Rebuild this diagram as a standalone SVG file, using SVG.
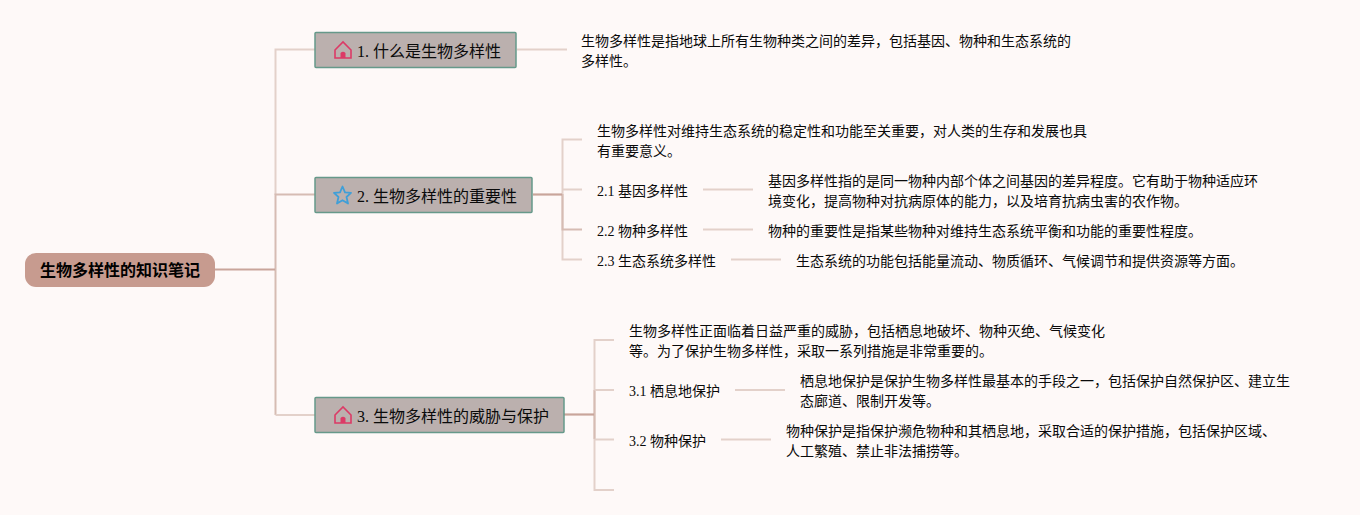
<svg xmlns="http://www.w3.org/2000/svg" width="1360" height="515" viewBox="0 0 1360 515">
<style>
text{font-family:"Liberation Serif","Noto Sans CJK SC",serif;fill:#0a0a0a}
.t{font-size:16px}
.s{font-size:14px}
.r{font-size:16px;font-weight:700;font-family:"Noto Sans CJK SC",sans-serif;fill:#000}
.box{fill:#bbb0ae;stroke:#66998a;stroke-width:1.5}
.l{fill:none;stroke:#e3d1ca;stroke-width:2}
.d{fill:none;stroke:#c9a59b;stroke-width:2.2}
.m{fill:none;stroke:#d6bcb3;stroke-width:2}
.home{fill:none;stroke:#dc3a66;stroke-width:1.6}
.star{fill:none;stroke:#3f9fd8;stroke-width:1.8;stroke-linejoin:round}
</style>
<defs>
<g id="homeIcon"><path class="home" d="M-8 0 L0 -8 L8 0 V8 H-8 Z"/><path d="M-2.500 8 V3 Q0 0.500 2.500 3 V8 Z" fill="#dc3a66"/></g>
</defs>
<rect width="1360" height="515" fill="#fef9f8"/>
<g id="connectors">
<path class="l" d="M315 49.500 H275.500 V195"/>
<path class="m" d="M315 194.500 H275.500 V269"/>
<path class="m" d="M275.500 269 V415"/>
<path class="l" d="M275.500 415 H315"/>
<path class="d" d="M215 269.500 H275"/>
<path class="l" d="M517 49.500 H567"/>
<path class="l" d="M582 139.500 H562.500 V194"/>
<path class="l" d="M562.500 194 V259.500 H582"/>
<path class="l" d="M562.500 189.500 H582"/>
<path class="m" d="M562.500 194 V229.500 H582"/>
<path class="d" d="M533 194.500 H562"/>
<path class="l" d="M703 189.500 H753"/>
<path class="l" d="M703 229.500 H753"/>
<path class="l" d="M731 259.500 H781"/>
<path class="l" d="M614 340 H594.500 V490 H614"/>
<path class="m" d="M594.500 390 V439"/>
<path class="l" d="M594.500 390 H614"/>
<path class="l" d="M594.500 439.500 H614"/>
<path class="d" d="M564 414.500 H594"/>
<path class="l" d="M735 390 H785"/>
<path class="l" d="M721 439.500 H771"/>
</g>
<g id="root"><rect x="25" y="253" width="190" height="34" rx="11" fill="#c79b8f"/><text class="r" x="40" y="276">生物多样性的知识笔记</text></g>
<g id="topic1"><rect class="box" x="315" y="32.500" width="201" height="35" rx="1"/><use href="#homeIcon" x="343" y="50"/><text class="t" x="357" y="56.500">1. 什么是生物多样性</text></g>
<g id="topic2"><rect class="box" x="315" y="177.500" width="217" height="35" rx="1"/><path class="star" d="M342.500 186.500 L345 192.300 L351 192.800 L346.500 197 L348 203.500 L342.500 200.200 L337 203.500 L338.500 197 L334 192.800 L340 192.300 Z"/><text class="t" x="357" y="201.500">2. 生物多样性的重要性</text></g>
<g id="topic3"><rect class="box" x="315" y="397.500" width="249" height="35" rx="1"/><use href="#homeIcon" x="343" y="415"/><text class="t" x="357" y="421.500">3. 生物多样性的威胁与保护</text></g>
<g id="n1"><text class="s" x="581" y="46">生物多样性是指地球上所有生物种类之间的差异，包括基因、物种和生态系统的</text><text class="s" x="581" y="66">多样性。</text></g>
<g id="n2"><text class="s" x="597" y="136">生物多样性对维持生态系统的稳定性和功能至关重要，对人类的生存和发展也具</text><text class="s" x="597" y="156">有重要意义。</text></g>
<g id="n21"><text class="s" x="597" y="195.500">2.1 基因多样性</text></g>
<g id="n21d"><text class="s" x="768" y="186">基因多样性指的是同一物种内部个体之间基因的差异程度。它有助于物种适应环</text><text class="s" x="768" y="206">境变化，提高物种对抗病原体的能力，以及培育抗病虫害的农作物。</text></g>
<g id="n22"><text class="s" x="597" y="235.500">2.2 物种多样性</text></g>
<g id="n22d"><text class="s" x="768" y="236">物种的重要性是指某些物种对维持生态系统平衡和功能的重要性程度。</text></g>
<g id="n23"><text class="s" x="597" y="266">2.3 生态系统多样性</text></g>
<g id="n23d"><text class="s" x="796" y="266">生态系统的功能包括能量流动、物质循环、气候调节和提供资源等方面。</text></g>
<g id="n3"><text class="s" x="629" y="336">生物多样性正面临着日益严重的威胁，包括栖息地破坏、物种灭绝、气候变化</text><text class="s" x="629" y="356">等。为了保护生物多样性，采取一系列措施是非常重要的。</text></g>
<g id="n31"><text class="s" x="629" y="396">3.1 栖息地保护</text></g>
<g id="n31d"><text class="s" x="800" y="386">栖息地保护是保护生物多样性最基本的手段之一，包括保护自然保护区、建立生</text><text class="s" x="800" y="406">态廊道、限制开发等。</text></g>
<g id="n32"><text class="s" x="629" y="446">3.2 物种保护</text></g>
<g id="n32d"><text class="s" x="786" y="436">物种保护是指保护濒危物种和其栖息地，采取合适的保护措施，包括保护区域、</text><text class="s" x="786" y="456">人工繁殖、禁止非法捕捞等。</text></g>
</svg>
